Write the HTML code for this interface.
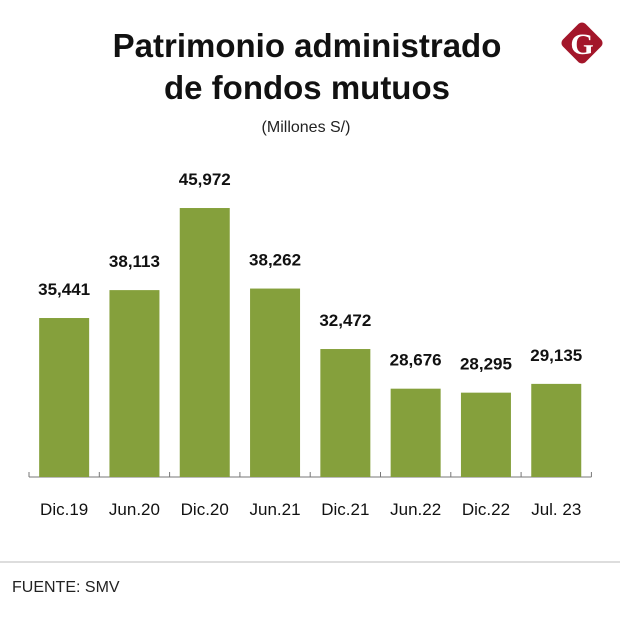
<!DOCTYPE html>
<html><head><meta charset="utf-8"><style>
body{margin:0;width:620px;height:620px;background:#fff;overflow:hidden;font-family:"Liberation Sans",sans-serif}
</style></head><body>
<svg width="620" height="620">
<text x="307" y="57" text-anchor="middle" font-size="33" font-weight="bold" fill="#111">Patrimonio administrado</text>
<text x="307" y="99" text-anchor="middle" font-size="33" font-weight="bold" fill="#111">de fondos mutuos</text>
<text x="306" y="132" text-anchor="middle" font-size="16" fill="#222">(Millones S/)</text>
<g>
<rect x="566" y="27" width="32" height="32" rx="5" fill="#a3162a" transform="rotate(45 582 43)"/>
<text x="582" y="54" text-anchor="middle" font-size="30" font-weight="bold" fill="#fff" font-family="Liberation Serif,serif">G</text>
</g>
<g id="bars"></g>
<line x1="0" y1="562" x2="620" y2="562" stroke="#ddd" stroke-width="2"/>
<text x="12" y="592" font-size="16" fill="#222">FUENTE: SMV</text>
</svg>
<script>
const categories=["Dic.19","Jun.20","Dic.20","Jun.21","Dic.21","Jun.22","Dic.22","Jul. 23"];
const values=[35441,38113,45972,38262,32472,28676,28295,29135];
const valueLabels=["35,441","38,113","45,972","38,262","32,472","28,676","28,295","29,135"];
const NS="http://www.w3.org/2000/svg",g=document.getElementById('bars');
const base=477,vmin=20220,k=0.010445,x0=29,step=70.3,bw=50;
const y=v=>base-(v-vmin)*k;
function mk(t,a){const e=document.createElementNS(NS,t);for(const n in a)e.setAttribute(n,a[n]);g.appendChild(e);return e;}
const ax=mk('line',{x1:x0,y1:base,x2:x0+step*categories.length,y2:base,stroke:'#777','stroke-width':1});


for(let i=0;i<=categories.length;i++){
 const t=mk('line',{x1:x0+i*step,y1:base-5,x2:x0+i*step,y2:base,stroke:'#777'});
 
 
}
values.forEach((v,i)=>{
 const cx=x0+step*(i+0.5);
 const r=mk('rect',{x:cx-bw/2,y:y(v),width:bw,height:base-y(v),fill:'#85a03c'});
 
 
 const l=mk('text',{x:cx,y:y(v)-23,'text-anchor':'middle','font-size':17,'font-weight':'bold',fill:'#111'});
 l.textContent=valueLabels[i];
 
 
 const c=mk('text',{x:cx,y:515,'text-anchor':'middle','font-size':17,fill:'#111'});
 c.textContent=categories[i];
 
 
});
</script>
</body></html>
